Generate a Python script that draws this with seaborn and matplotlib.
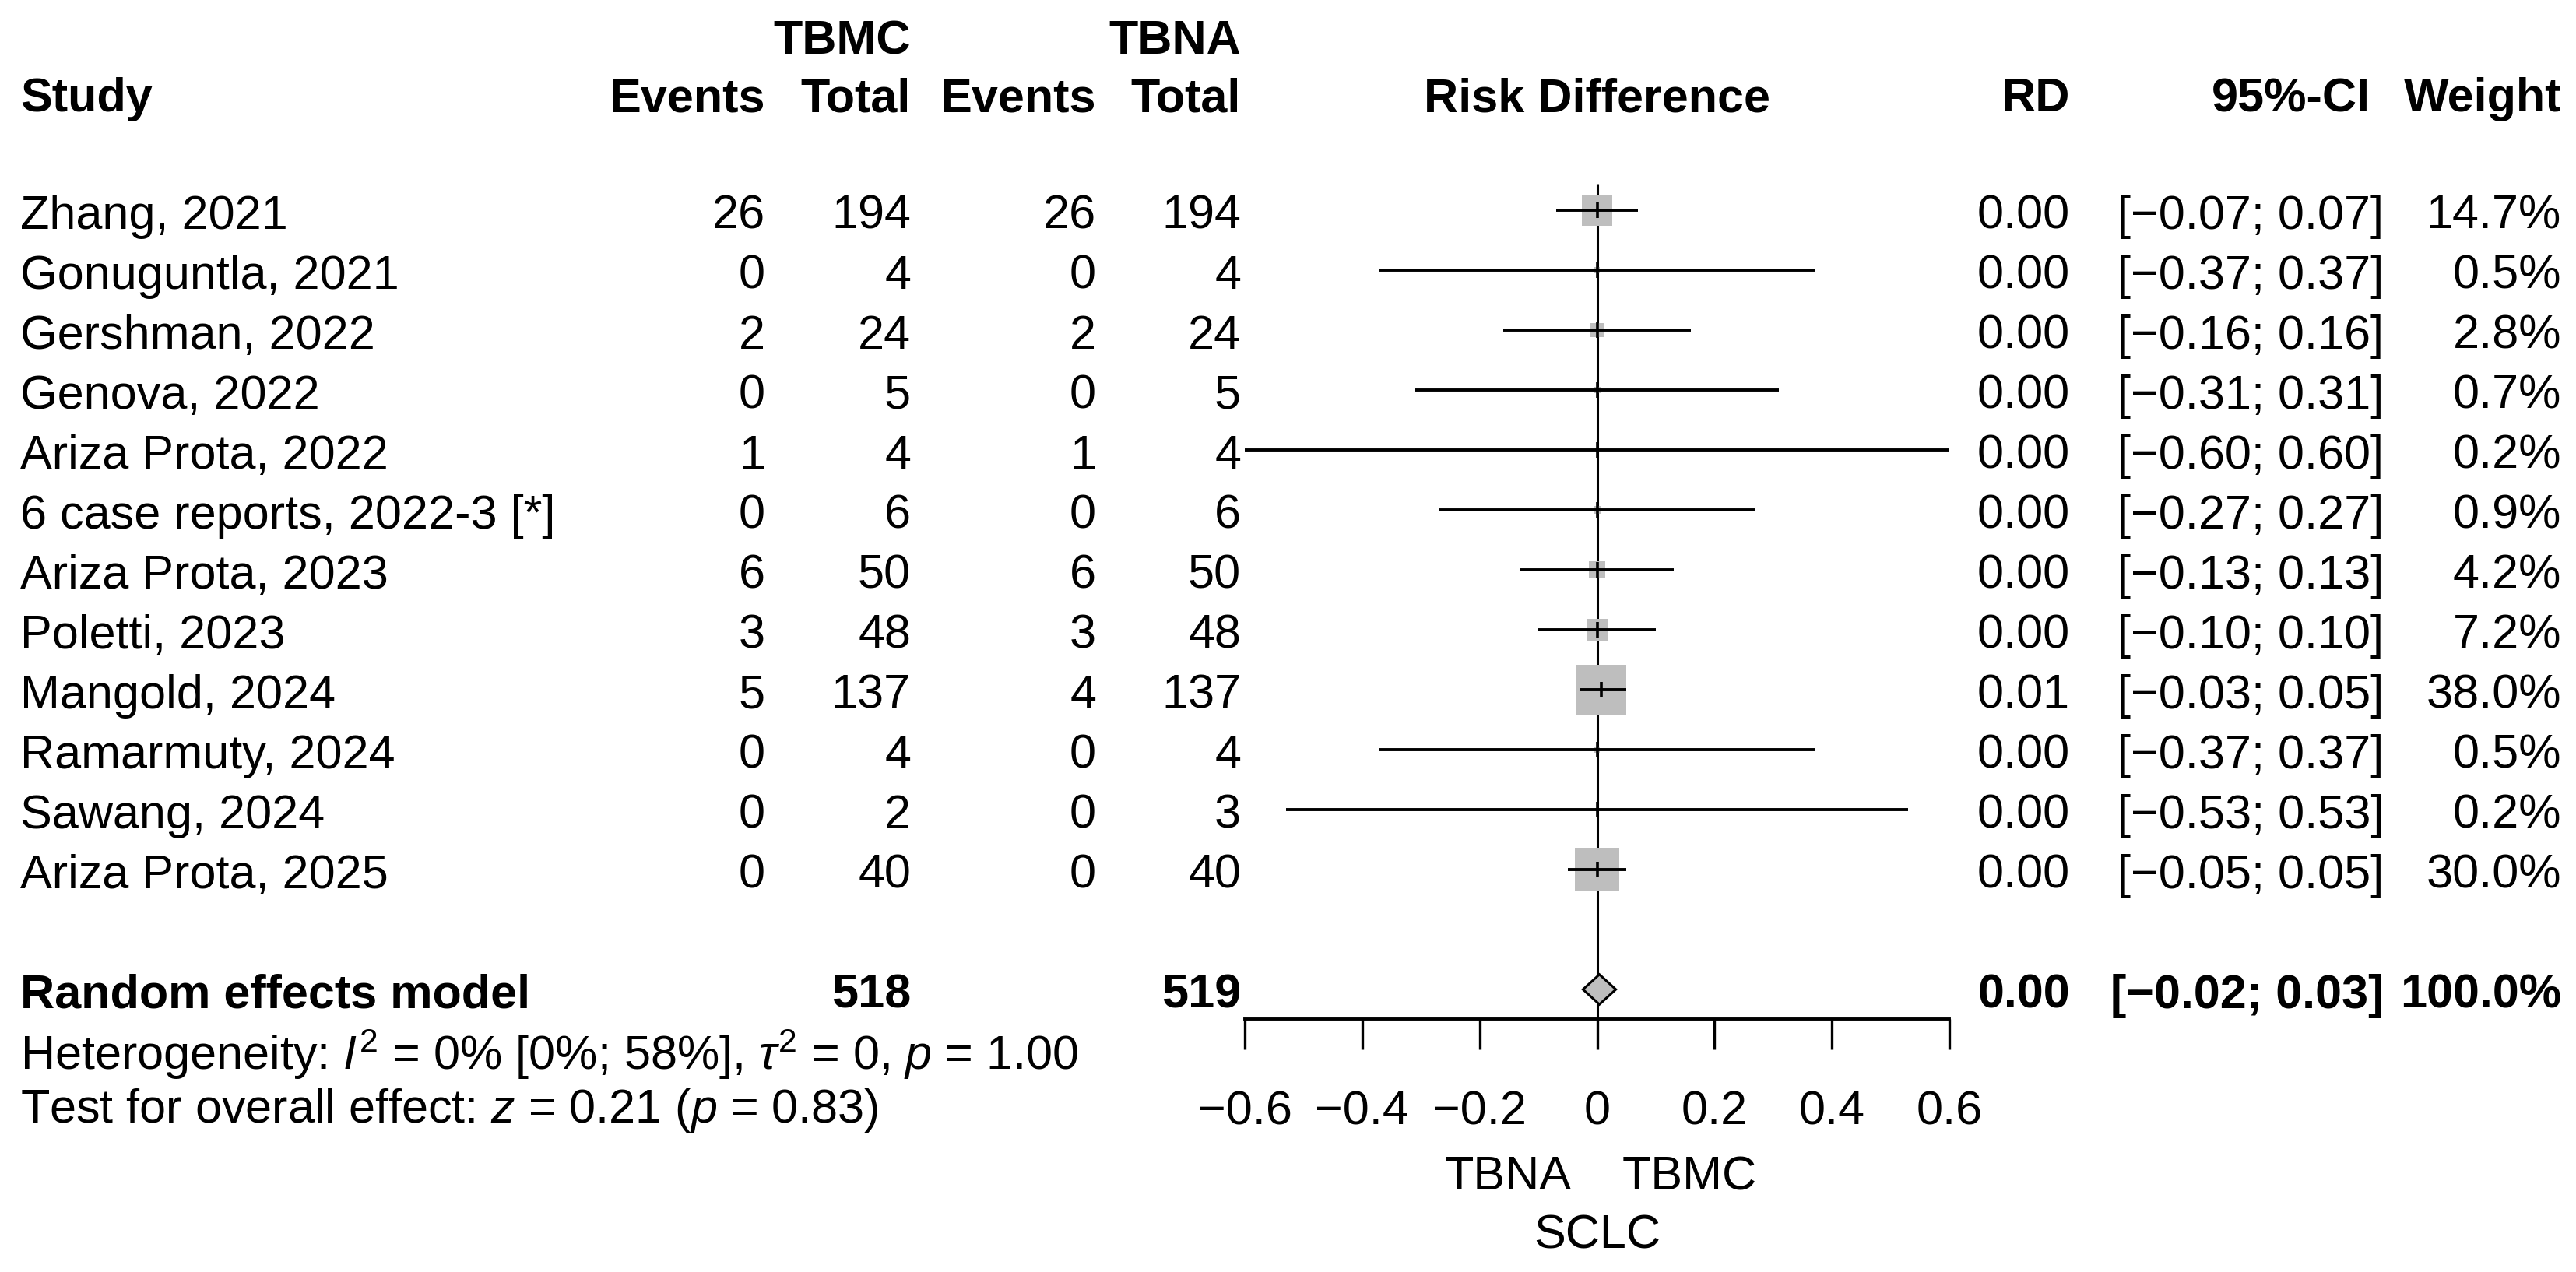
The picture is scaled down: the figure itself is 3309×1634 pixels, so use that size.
import matplotlib
matplotlib.use("Agg")
import matplotlib.pyplot as plt
import matplotlib.transforms as mtransforms
from matplotlib.patches import Polygon
import numpy as np
import pandas as pd
import seaborn as sns

studies = [
    "Zhang, 2021", "Gonuguntla, 2021", "Gershman, 2022", "Genova, 2022",
    "Ariza Prota, 2022", "6 case reports, 2022-3 [*]", "Ariza Prota, 2023",
    "Poletti, 2023", "Mangold, 2024", "Ramarmuty, 2024", "Sawang, 2024",
    "Ariza Prota, 2025",
]
tbmc_events = [26, 0, 2, 0, 1, 0, 6, 3, 5, 0, 0, 0]
tbmc_total = [194, 4, 24, 5, 4, 6, 50, 48, 137, 4, 2, 40]
tbna_events = [26, 0, 2, 0, 1, 0, 6, 3, 4, 0, 0, 0]
tbna_total = [194, 4, 24, 5, 4, 6, 50, 48, 137, 4, 3, 40]
rd = [0, 0, 0, 0, 0, 0, 0, 0, 0.007, 0, 0, 0]
ci_lower = [-0.07, -0.37, -0.16, -0.31, -0.60, -0.27, -0.13, -0.10, -0.03, -0.37, -0.53, -0.05]
ci_upper = [0.07, 0.37, 0.16, 0.31, 0.60, 0.27, 0.13, 0.10, 0.05, 0.37, 0.53, 0.05]
weights = [14.7, 0.5, 2.8, 0.7, 0.2, 0.9, 4.2, 7.2, 38.0, 0.5, 0.2, 30.0]

re_rd = 0.004
re_lower = -0.024
re_upper = 0.032
re_weight = 100.0

x_ticks = [-0.6, -0.4, -0.2, 0, 0.2, 0.4, 0.6]
heterogeneity = r"Heterogeneity: $I^2$ = 0% [0%; 58%], $\tau^2$ = 0, $p$ = 1.00"
overall_test = r"Test for overall effect: $z$ = 0.21 ($p$ = 0.83)"

sns.set_theme(style="white")
plt.rcParams["font.family"] = ["Liberation Sans", "DejaVu Sans"]
plt.rcParams["mathtext.fontset"] = "custom"
plt.rcParams["mathtext.rm"] = "Liberation Sans"
plt.rcParams["mathtext.it"] = "Liberation Sans:italic"
plt.rcParams["mathtext.bf"] = "Liberation Sans:bold"
plt.rcParams["axes.unicode_minus"] = True
plt.rcParams["text.color"] = "black"

W, H = 3309, 1634
FS = 44
MINUS = "\u2212"


def fmt(v, nd=2):
    s = f"{v:.{nd}f}"
    if s.startswith("-"):
        s = MINUS + s[1:]
    return s


fig = plt.figure(figsize=(W / 100, H / 100), dpi=100)
fig.patch.set_facecolor("white")

# forest panel: x in risk-difference units, y in row units (77 px per row)
ax = fig.add_axes([1599 / W, (H - 1309) / H, 905 / W, 1309 / H])
ax.set_facecolor("none")

n = len(studies)
rows = np.arange(1, n + 1)
re_row = n + 2

df = pd.DataFrame({"rd": rd, "row": rows, "weight": weights})

ax.vlines(0, 0.57, 14.5, color="black", linewidth=2.2, zorder=1)
sns.scatterplot(
    data=df, x="rd", y="row", size="weight",
    sizes=(55 * min(weights), 55 * max(weights)), size_norm=(min(weights), max(weights)),
    marker="s", color="#BEBEBE", linewidth=0, legend=False, ax=ax, zorder=2,
)
ax.hlines(rows, ci_lower, ci_upper, color="black", linewidth=2.8, zorder=3)
ax.vlines(rd, rows - 0.135, rows + 0.135, color="black", linewidth=2.6, zorder=3)

diamond = Polygon(
    [(re_lower, re_row), (re_rd, re_row - 0.25), (re_upper, re_row), (re_rd, re_row + 0.25)],
    closed=True, facecolor="#BEBEBE", edgecolor="black", linewidth=2.2, zorder=3,
)
ax.add_patch(diamond)

ax.set_xlim(-0.6, 0.6)
ax.set_ylim(1 + (1309 - 270) / 77, 1 - 270 / 77)
ax.set_xlabel("")
ax.set_ylabel("")
ax.set_yticks([])
ax.set_xticks(x_ticks)
ax.set_xticklabels([fmt(t, 1) if t != 0 else "0" for t in x_ticks], fontsize=FS)
for side in ["left", "right", "top"]:
    ax.spines[side].set_visible(False)
ax.spines["bottom"].set_linewidth(2.8)
ax.spines["bottom"].set_color("black")
ax.tick_params(axis="x", direction="out", length=28, width=2.4, pad=38, colors="black",
               bottom=True, labelsize=FS)

trans = mtransforms.blended_transform_factory(fig.transFigure, ax.transData)


def put(xpx, y, s, ha="right", bold=False):
    ax.text(xpx / W, y, s, transform=trans, ha=ha, va="baseline", fontsize=FS,
            fontweight="bold" if bold else "normal", color="black", clip_on=False)


# header
hdr1, hdr2 = -1.61, -0.643
put(1170, hdr1, "TBMC", bold=True)
put(1594, hdr1, "TBNA", bold=True)
put(26, hdr2, "Study", ha="left", bold=True)
put(983, hdr2, "Events", bold=True)
put(1170, hdr2, "Total", bold=True)
put(1408, hdr2, "Events", bold=True)
put(1594, hdr2, "Total", bold=True)
put(2051, hdr2, "Risk Difference", ha="center", bold=True)
put(2659, hdr2, "RD", bold=True)
put(3045, hdr2, "95%-CI", bold=True)
put(3290, hdr2, "Weight", bold=True)

# study rows
for i in range(n):
    y = rows[i] + 0.31
    put(26, y, studies[i], ha="left")
    put(983, y, str(tbmc_events[i]))
    put(1170, y, str(tbmc_total[i]))
    put(1408, y, str(tbna_events[i]))
    put(1594, y, str(tbna_total[i]))
    put(2659, y, fmt(rd[i]))
    put(3062, y, f"[{fmt(ci_lower[i])}; {fmt(ci_upper[i])}]")
    put(3290, y, f"{weights[i]:.1f}%")

# pooled row
y = re_row + 0.31
put(26, y, "Random effects model", ha="left", bold=True)
put(1170, y, str(sum(tbmc_total)), bold=True)
put(1594, y, str(sum(tbna_total)), bold=True)
put(2659, y, fmt(re_rd), bold=True)
put(3062, y, f"[{fmt(re_lower)}; {fmt(re_upper)}]", bold=True)
put(3290, y, f"{re_weight:.1f}%", bold=True)

put(26, 15.34, heterogeneity, ha="left")
put(26, 16.22, overall_test, ha="left")

# favour labels under the axis
for x, yy, label in [(-0.152, 17.34, "TBNA"), (0.158, 17.34, "TBMC"), (0, 18.32, "SCLC")]:
    ax.text(x, yy, label, ha="center", va="baseline", fontsize=FS, color="black", clip_on=False)

fig.savefig("out.png", dpi=100, facecolor="white")
plt.close(fig)
